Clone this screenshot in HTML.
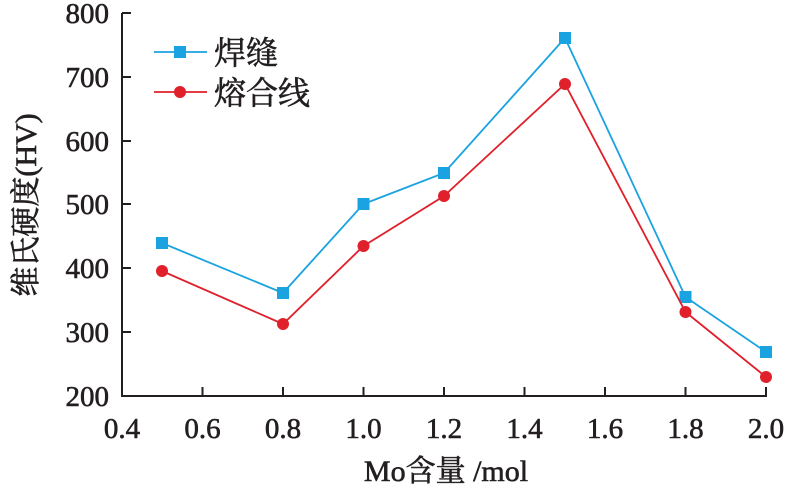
<!DOCTYPE html>
<html><head><meta charset="utf-8"><style>
html,body{margin:0;padding:0;background:#fff;}
svg{display:block;}
text{font-family:"Liberation Serif","Noto Serif CJK SC",serif;fill:#231f20;stroke:#231f20;stroke-width:0.6;font-weight:normal;}
</style></head><body>
<svg width="792" height="492" viewBox="0 0 792 492" xmlns="http://www.w3.org/2000/svg">
<g stroke="#231f20" stroke-width="2" fill="none">
<line x1="122" y1="13" x2="122" y2="397"/>
<line x1="121" y1="396" x2="767" y2="396"/>
<line x1="122" y1="13" x2="131" y2="13"/>
<line x1="122" y1="77" x2="131" y2="77"/>
<line x1="122" y1="141" x2="131" y2="141"/>
<line x1="122" y1="204" x2="131" y2="204"/>
<line x1="122" y1="268" x2="131" y2="268"/>
<line x1="122" y1="332" x2="131" y2="332"/>
<line x1="202.5" y1="396" x2="202.5" y2="387"/>
<line x1="283" y1="396" x2="283" y2="387"/>
<line x1="363.5" y1="396" x2="363.5" y2="387"/>
<line x1="444" y1="396" x2="444" y2="387"/>
<line x1="524.5" y1="396" x2="524.5" y2="387"/>
<line x1="605" y1="396" x2="605" y2="387"/>
<line x1="685.5" y1="396" x2="685.5" y2="387"/>
<line x1="766" y1="396" x2="766" y2="387"/>
</g>
<g font-size="29" text-anchor="end">
<text x="109" y="23">800</text>
<text x="109" y="87">700</text>
<text x="109" y="151">600</text>
<text x="109" y="214">500</text>
<text x="109" y="278">400</text>
<text x="109" y="342">300</text>
<text x="109" y="406">200</text>
</g>
<g font-size="29" text-anchor="middle">
<text x="122" y="438">0.4</text>
<text x="202.5" y="438">0.6</text>
<text x="283" y="438">0.8</text>
<text x="363.5" y="438">1.0</text>
<text x="444" y="438">1.2</text>
<text x="524.5" y="438">1.4</text>
<text x="605" y="438">1.6</text>
<text x="685.5" y="438">1.8</text>
<text x="766" y="438">2.0</text>
</g>
<text x="446" y="481" font-size="30" text-anchor="middle">Mo含量 /mol</text>
<text font-size="30" text-anchor="middle" transform="translate(36,205) rotate(-90)">维氏硬度(HV)</text>

<polyline fill="none" stroke="#1aa3e0" stroke-width="1.8" points="162,243 283,293 363.5,204 444,173 565,38 685.5,297 766,352"/>
<g fill="#1aa3e0">
<rect x="156" y="237" width="12" height="12"/><rect x="277" y="287" width="12" height="12"/>
<rect x="357.5" y="198" width="12" height="12"/><rect x="438" y="167" width="12" height="12"/>
<rect x="559" y="32" width="12" height="12"/><rect x="679.5" y="291" width="12" height="12"/>
<rect x="760" y="346" width="12" height="12"/>
</g>
<polyline fill="none" stroke="#e0202a" stroke-width="1.8" points="162,271 283,324 363.5,246 444,196 565,84 685.5,312 766,377"/>
<g fill="#e0202a">
<circle cx="162" cy="271" r="6"/><circle cx="283" cy="324" r="6"/><circle cx="363.5" cy="246" r="6"/>
<circle cx="444" cy="196" r="6"/><circle cx="565" cy="84" r="6"/><circle cx="685.5" cy="312" r="6"/>
<circle cx="766" cy="377" r="6"/>
</g>
<line x1="154" y1="52" x2="207" y2="52" stroke="#1aa3e0" stroke-width="1.8"/>
<rect x="174" y="46" width="12" height="12" fill="#1aa3e0"/>
<text x="214" y="64" font-size="32">焊缝</text>
<line x1="154" y1="92" x2="207" y2="92" stroke="#e0202a" stroke-width="1.8"/>
<circle cx="180" cy="92" r="6" fill="#e0202a"/>
<text x="214" y="104" font-size="32">熔合线</text>
</svg>
</body></html>
